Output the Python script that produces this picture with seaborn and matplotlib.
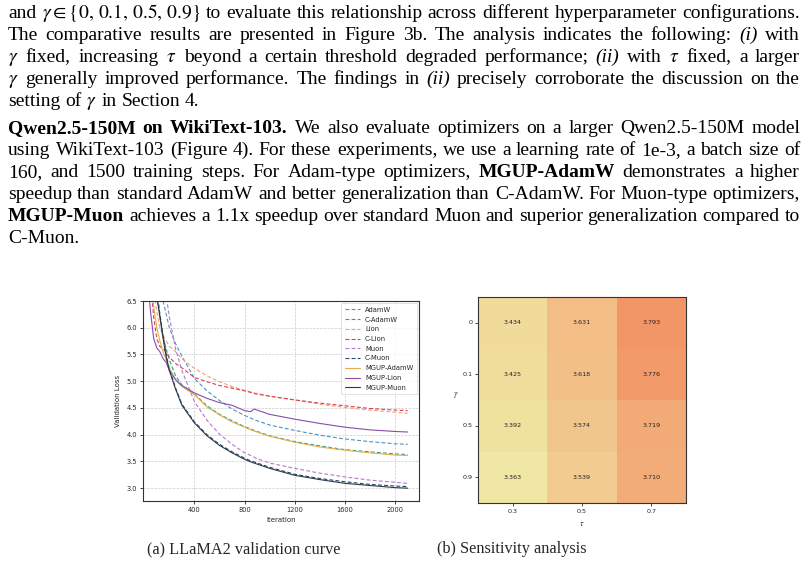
import re
import matplotlib
matplotlib.use("Agg")
import matplotlib.pyplot as plt
import numpy as np
import pandas as pd
import seaborn as sns
from matplotlib.colors import LinearSegmentedColormap

sns.set_theme(style="ticks")
plt.rcParams["mathtext.fontset"] = "stix"

# ---- data ----
iterations = [25, 50, 75, 100, 125, 150, 175, 200, 250, 300, 400, 500, 600, 700,
              800, 850, 875, 900, 1000, 1200, 1400, 1600, 1800, 2000, 2100]

adamw = [9.0, 8.5, 7.9, 7.4, 6.9, 6.5, 6.25, 6.0, 5.7, 5.47, 5.05, 4.82, 4.64, 4.48,
         4.36, 4.31, 4.28, 4.26, 4.18, 4.08, 3.99, 3.92, 3.87, 3.83, 3.82]
c_adamw = [8.2, 7.4, 6.8, 6.55, 6.2, 5.85, 5.6, 5.4, 5.1, 4.93, 4.76, 4.54, 4.38, 4.26,
           4.15, 4.11, 4.08, 4.06, 3.98, 3.87, 3.79, 3.72, 3.68, 3.64, 3.63]
lion = [8.0, 7.3, 6.7, 6.3, 6.0, 5.85, 5.75, 5.65, 5.55, 5.42, 5.24, 5.1, 4.99, 4.9,
        4.83, 4.8, 4.78, 4.77, 4.72, 4.65, 4.57, 4.51, 4.46, 4.42, 4.40]
c_lion = [7.6, 6.9, 6.2, 5.8, 5.65, 5.6, 5.55, 5.45, 5.33, 5.25, 5.07, 4.99, 4.92, 4.87,
          4.82, 4.79, 4.77, 4.76, 4.72, 4.65, 4.59, 4.54, 4.49, 4.46, 4.45]
muon = [9.5, 9.0, 8.5, 8.0, 7.5, 7.0, 6.6, 6.2, 5.6, 5.2, 4.62, 4.27, 4.01, 3.82,
        3.66, 3.61, 3.58, 3.55, 3.47, 3.37, 3.28, 3.21, 3.15, 3.11, 3.09]
c_muon = [8.6, 7.7, 7.1, 6.7, 6.25, 5.85, 5.5, 5.23, 4.87, 4.57, 4.24, 4.0, 3.82, 3.68,
          3.56, 3.51, 3.49, 3.47, 3.39, 3.26, 3.18, 3.12, 3.07, 3.04, 3.03]
mgup_adamw = [7.8, 7.0, 6.4, 6.0, 5.75, 5.55, 5.4, 5.25, 5.02, 4.9, 4.75, 4.52, 4.37, 4.24,
              4.14, 4.09, 4.07, 4.05, 3.97, 3.86, 3.77, 3.71, 3.66, 3.62, 3.61]
mgup_lion = [7.0, 6.3, 5.8, 5.62, 5.55, 5.42, 5.35, 5.2, 5.03, 4.92, 4.78, 4.68, 4.6, 4.55,
             4.45, 4.43, 4.48, 4.46, 4.38, 4.29, 4.21, 4.14, 4.09, 4.06, 4.05]
mgup_muon = [8.5, 7.6, 7.0, 6.6, 6.2, 5.8, 5.45, 5.2, 4.85, 4.55, 4.22, 3.98, 3.8, 3.66,
             3.54, 3.49, 3.47, 3.45, 3.37, 3.24, 3.16, 3.09, 3.05, 3.01, 3.0]

series = [
    ("AdamW", adamw, "#4a93c9", "--"),
    ("C-AdamW", c_adamw, "#2ea27c", "--"),
    ("Lion", lion, "#f4a07e", "--"),
    ("C-Lion", c_lion, "#d6404e", "--"),
    ("Muon", muon, "#b27cc8", "--"),
    ("C-Muon", c_muon, "#24476b", "--"),
    ("MGUP-AdamW", mgup_adamw, "#dfb04c", "-"),
    ("MGUP-Lion", mgup_lion, "#8a4cad", "-"),
    ("MGUP-Muon", mgup_muon, "#2a3848", "-"),
]

gammas = ["0", "0.1", "0.5", "0.9"]
taus = ["0.3", "0.5", "0.7"]
sens_loss = [[3.434, 3.631, 3.793],
             [3.425, 3.618, 3.776],
             [3.392, 3.574, 3.719],
             [3.363, 3.539, 3.710]]

para1 = [
    r"and $\gamma \in \{0,\, 0.1,\, 0.5,\, 0.9\}$ to evaluate this relationship across different hyperparameter configurations.",
    r"The comparative results are presented in Figure 3b. The analysis indicates the following: _(i) with",
    r"$\gamma$ fixed, increasing $\tau$ beyond a certain threshold degraded performance; _(ii) with $\tau$ fixed, a larger",
    r"$\gamma$ generally improved performance. The findings in _(ii) precisely corroborate the discussion on the",
    r"setting of $\gamma$ in Section 4.",
]
para2 = [
    r"*Qwen2.5-150M *on *WikiText-103. We also evaluate optimizers on a larger Qwen2.5-150M model",
    r"using WikiText-103 (Figure 4). For these experiments, we use a learning rate of 1e-3, a batch size of",
    r"160, and 1500 training steps. For Adam-type optimizers, *MGUP-AdamW demonstrates a higher",
    r"speedup than standard AdamW and better generalization than C-AdamW. For Muon-type optimizers,",
    r"*MGUP-Muon achieves a 1.1x speedup over standard Muon and superior generalization compared to",
    r"C-Muon.",
]

W, H = 808, 563
BODY = 14.0
CAPTION = 11.7
fig = plt.figure(figsize=(W / 100, H / 100), dpi=100)
renderer = fig.canvas.get_renderer()


def put_line(line, y_px, justify=True, x0=8, x1=800):
    words = re.findall(r"\$[^$]*\$|\S+", line)
    arts = []
    for w in words:
        kw = dict(family="Liberation Serif", fontsize=BODY, color="black")
        if w.startswith("*"):
            w = w[1:]
            kw["fontweight"] = "bold"
        elif w.startswith("_"):
            w = w[1:]
            kw["fontstyle"] = "italic"
        arts.append(fig.text(0, 1 - y_px / H, w, va="baseline", ha="left", **kw))
    widths = [a.get_window_extent(renderer).width for a in arts]
    if justify and len(arts) > 1:
        gap = (x1 - x0 - sum(widths)) / (len(arts) - 1)
    else:
        gap = BODY * 100 / 72 * 0.25
    x = x0
    for a, w in zip(arts, widths):
        a.set_x(x / W)
        x += w + gap


for i, line in enumerate(para1):
    put_line(line, 18 + 22 * i, justify=i < len(para1) - 1)
for i, line in enumerate(para2):
    put_line(line, 133 + 22 * i, justify=i < len(para2) - 1)

# ---- (a) validation curves ----
ax = fig.add_axes([143 / W, 1 - 501 / H, 276 / W, 200 / H])
for name, vals, col, ls in series:
    sns.lineplot(x=iterations, y=vals, ax=ax, color=col, label=name, linewidth=0.8,
                 linestyle=ls)
for line in ax.get_lines():
    if line.get_linestyle() == "--":
        line.set_dashes((3.5, 2))
ax.set_xlim(-10, 2190)
ax.set_ylim(2.76, 6.5)
ax.set_xticks([400, 800, 1200, 1600, 2000])
ax.set_yticks(np.arange(3.0, 6.51, 0.5))
ax.grid(True, linestyle="--", color="#cccccc", linewidth=0.5)
ax.tick_params(labelsize=4.8, length=2, width=0.6, pad=2)
ax.set_xlabel("Iteration", fontsize=5, labelpad=3)
ax.set_ylabel("Validation Loss", fontsize=5, labelpad=4)
for s in ax.spines.values():
    s.set_linewidth(0.8)
    s.set_color("#333333")
leg = ax.legend(loc="upper right", fontsize=4.9, handlelength=2.2, frameon=True,
                borderpad=0.55, labelspacing=0.55, fancybox=False, edgecolor="#cccccc",
                borderaxespad=0.3)
leg.get_frame().set_linewidth(0.5)

# ---- (b) sensitivity heatmap ----
cmap = LinearSegmentedColormap.from_list("sens", ["#efe7a3", "#f1d092", "#f2bb84", "#f39466"])
sens_df = pd.DataFrame(sens_loss, index=gammas, columns=taus)
hx = fig.add_axes([478 / W, 1 - 503 / H, 208 / W, 206 / H])
sns.heatmap(sens_df, ax=hx, cmap=cmap, vmin=3.36, vmax=3.80, annot=True, fmt=".3f",
            cbar=False, annot_kws={"fontsize": 4.6, "color": "#222222"})
hx.tick_params(labelsize=4.6, length=2, width=0.6, pad=2, left=True, bottom=True)
hx.set_yticklabels(gammas, rotation=0)
hx.set_xticklabels(taus, rotation=0)
hx.set_xlabel(r"$\tau$", fontsize=6, labelpad=4)
hx.set_ylabel(r"$\gamma$", fontsize=6, rotation=0, labelpad=5)
for s in hx.spines.values():
    s.set_visible(True)
    s.set_linewidth(0.8)
    s.set_color("#333333")

# ---- captions ----
fig.text(244 / W, 1 - 553 / H, "(a) LLaMA2 validation curve", family="Liberation Serif",
         fontsize=CAPTION, ha="center", va="baseline")
fig.text(512 / W, 1 - 553 / H, "(b) Sensitivity analysis", family="Liberation Serif",
         fontsize=CAPTION, ha="center", va="baseline")

fig.savefig("out.png", dpi=100)
